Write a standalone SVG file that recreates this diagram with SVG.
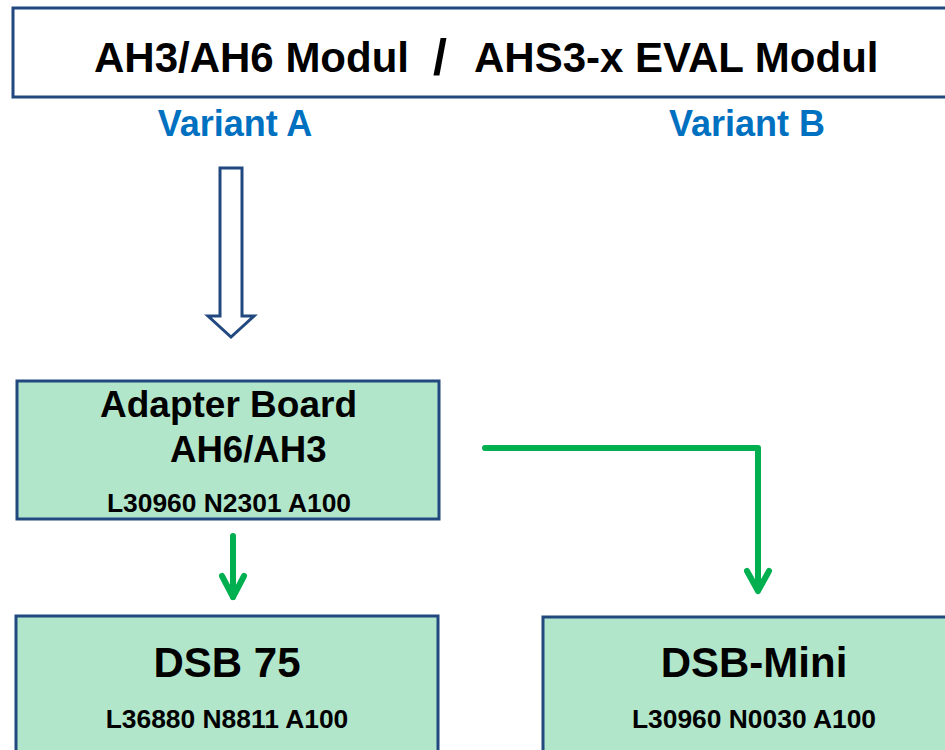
<svg xmlns="http://www.w3.org/2000/svg" width="945" height="750" viewBox="0 0 945 750">
<style>
.t{font-family:"Liberation Sans",Arial,sans-serif;font-weight:bold;fill:#000}
.v{font-family:"Liberation Sans",Arial,sans-serif;font-weight:bold;fill:#0070C0;font-size:36px;text-anchor:middle}
.box{fill:#B2E6CB;stroke:#22497F;stroke-width:3}
.g{fill:none;stroke:#00B050;stroke-width:6;stroke-linecap:round;stroke-linejoin:round}
</style>
<rect width="945" height="750" fill="#fff"/>
<g id="header">
<rect x="13" y="8" width="945" height="89" fill="#fff" stroke="#22497F" stroke-width="3"/>
<text class="t" x="94" y="72" font-size="42">AH3/AH6 Modul</text>
<text class="t" x="440" y="74" font-size="50" text-anchor="middle">/</text>
<text class="t" x="474" y="72" font-size="42">AHS3-x EVAL Modul</text>
</g>
<g id="variantA"><text class="v" x="235" y="136">Variant A</text></g>
<g id="variantB"><text class="v" x="747" y="136">Variant B</text></g>
<g id="adapter">
<rect class="box" x="17" y="381" width="422" height="138"/>
<text class="t" x="100" y="417" font-size="37">Adapter Board</text>
<text class="t" x="170" y="462" font-size="36.6">AH6/AH3</text>
<text class="t" x="229" y="512" font-size="26.4" text-anchor="middle">L30960 N2301 A100</text>
</g>
<g id="dsb75">
<rect class="box" x="16" y="616" width="422" height="150"/>
<text class="t" x="227" y="677" font-size="42" text-anchor="middle">DSB 75</text>
<text class="t" x="227" y="728" font-size="26.4" text-anchor="middle">L36880 N8811 A100</text>
</g>
<g id="dsbmini">
<rect class="box" x="543" y="617" width="440" height="150"/>
<text class="t" x="754" y="677" font-size="42" text-anchor="middle">DSB-Mini</text>
<text class="t" x="754" y="728" font-size="26.4" text-anchor="middle">L30960 N0030 A100</text>
</g>
<g id="connectors">
<polygon points="220,168 242,168 242,316 254,316 231,337 208,316 220,316" fill="#fff" stroke="#22497F" stroke-width="3"/>
<path class="g" d="M233,536 V597"/>
<path class="g" d="M222,576 L233,597 L244,576"/>
<path class="g" d="M485,448 H758 V590" stroke-linecap="butt" stroke-linejoin="miter"/>
<path class="g" d="M747,571 L758,591 L769,571"/>
</g>
</svg>
